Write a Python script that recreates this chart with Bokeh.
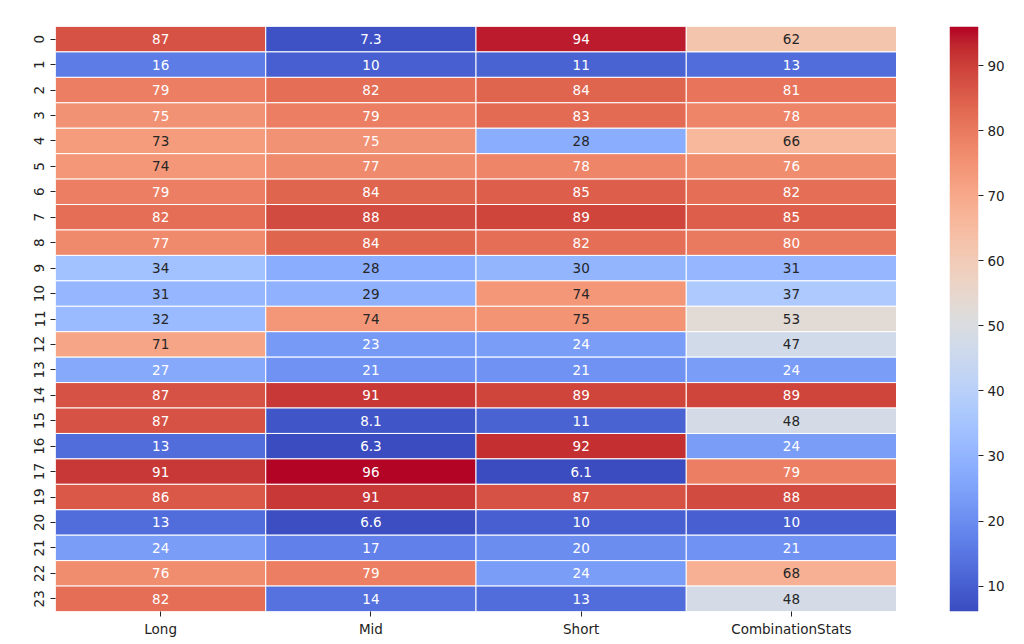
import numpy as np
from bokeh.plotting import figure
from bokeh.layouts import row
from bokeh.models import ColumnDataSource, LinearColorMapper, FixedTicker, Range1d
from bokeh.transform import transform
from bokeh.core.properties import value
from bokeh.embed import file_html
from bokeh.resources import INLINE

rows = ["0", "1", "2", "3", "4", "5", "6", "7", "8", "9", "10", "11", "12",
        "13", "14", "15", "16", "17", "19", "20", "21", "22", "23"]
cols = ["Long", "Mid", "Short", "CombinationStats"]
long_vals = [87, 16, 79, 75, 73, 74, 79, 82, 77, 34, 31, 32, 71, 27, 87, 87, 13, 91, 86, 13, 24, 76, 82]
mid_vals = [7.3, 10, 82, 79, 75, 77, 84, 88, 84, 28, 29, 74, 23, 21, 91, 8.1, 6.3, 96, 91, 6.6, 17, 79, 14]
short_vals = [94, 11, 84, 83, 28, 78, 85, 89, 82, 30, 74, 74.6, 24, 21, 89, 11, 92, 6.1, 87, 10, 20, 24, 13]
comb_vals = [62, 13, 81, 78, 66, 76, 82, 85, 80, 31, 37, 53, 47, 24, 89, 48, 24, 79, 88, 10, 21, 68, 48]
cbar_ticks = [10, 20, 30, 40, 50, 60, 70, 80, 90]

# matplotlib "coolwarm" segment data
cw_r = [0.2298057, 0.26623388, 0.30386891, 0.342804478, 0.38301334, 0.424369608, 0.46666708,
        0.509635204, 0.552953156, 0.596262162, 0.639176211, 0.681291281, 0.722193294,
        0.761464949, 0.798691636, 0.833466556, 0.865395197, 0.897787179, 0.924127593,
        0.944468518, 0.958852946, 0.96732803, 0.969954137, 0.966811177, 0.958003065,
        0.943660866, 0.923944917, 0.89904617, 0.869186849, 0.834620542, 0.795631745,
        0.752534934, 0.705673158]
cw_g = [0.298717966, 0.353094838, 0.406535296, 0.458757618, 0.50941904, 0.558148092,
        0.604562568, 0.648280772, 0.688929332, 0.726149107, 0.759599947, 0.788964712,
        0.813952739, 0.834302879, 0.849786142, 0.860207984, 0.86541021, 0.848937047,
        0.827384882, 0.800927443, 0.769767752, 0.734132809, 0.694266682, 0.650421156,
        0.602842431, 0.551750968, 0.49730856, 0.439559467, 0.378313092, 0.312874446,
        0.24128379, 0.157246067, 0.01555616]
cw_b = [0.753683153, 0.801466763, 0.84495867, 0.883725899, 0.917387822, 0.945619588,
        0.968154911, 0.98478814, 0.995375608, 0.999836203, 0.998151185, 0.990363227,
        0.976574709, 0.956945269, 0.931688648, 0.901068838, 0.865395561, 0.820880546,
        0.774508472, 0.726736146, 0.678007945, 0.628751763, 0.579375448, 0.530263762,
        0.481775914, 0.434243684, 0.387970225, 0.343229596, 0.300267182, 0.259301199,
        0.220525627, 0.184115123, 0.150232812]
xs = np.linspace(0, 1, len(cw_r))
t = np.linspace(0, 1, 256)
pal_rgb = np.stack([np.interp(t, xs, np.array(c)) for c in (cw_r, cw_g, cw_b)], axis=1)
palette = ["#%02x%02x%02x" % tuple(int(round(c * 255)) for c in rgb) for rgb in pal_rgb]

all_vals = long_vals + mid_vals + short_vals + comb_vals
vmin, vmax = min(all_vals), max(all_vals)
mapper = LinearColorMapper(palette=palette, low=vmin, high=vmax)


def lum(rgb):
    c = np.array(rgb)
    c = np.where(c <= 0.03928, c / 12.92, ((c + 0.055) / 1.055) ** 2.4)
    return 0.2126 * c[0] + 0.7152 * c[1] + 0.0722 * c[2]


xcol, yrow, vals, labels, tcol = [], [], [], [], []
for cname, series in zip(cols, [long_vals, mid_vals, short_vals, comb_vals]):
    for r, v in zip(rows, series):
        xcol.append(cname)
        yrow.append(r)
        vals.append(v)
        labels.append("{:.2g}".format(v))
        idx = int(np.clip((v - vmin) / (vmax - vmin) * 256, 0, 255))
        tcol.append("#262626" if lum(pal_rgb[idx]) > 0.408 else "#ffffff")

src = ColumnDataSource(dict(col=xcol, row=yrow, val=vals, label=labels, tcol=tcol))

p = figure(x_range=cols, y_range=list(reversed(rows)), frame_width=841, frame_height=585,
           min_border_left=55, min_border_top=26, min_border_bottom=30, min_border_right=0,
           output_backend="svg", toolbar_location=None)
p.rect(x="col", y="row", width=1, height=1, source=src,
       fill_color=transform("val", mapper), line_color="white", line_width=1)
p.text(x="col", y="row", text="label", source=src, text_color="tcol",
       text_align="center", text_baseline="middle",
       text_font=value("DejaVu Sans"), text_font_size="13.5px")

for ax in (p.xaxis[0], p.yaxis[0]):
    ax.axis_line_color = None
    ax.major_tick_in = 0
    ax.major_tick_out = 5
    ax.major_tick_line_color = "#222222"
    ax.minor_tick_line_color = None
    ax.major_label_text_font = "DejaVu Sans"
    ax.major_label_text_font_size = "13.5px"
    ax.major_label_text_color = "#222222"
    ax.major_label_standoff = 4
p.yaxis.major_label_orientation = "vertical"
p.yaxis.major_label_standoff = 6
p.grid.visible = False
p.outline_line_color = None

# colour bar as its own small figure
cbf = figure(x_range=Range1d(0, 1), y_range=Range1d(vmin, vmax), frame_width=29, frame_height=585,
             min_border_left=53, min_border_top=26, min_border_bottom=30, min_border_right=40,
             x_axis_location=None, y_axis_location="right",
             output_backend="svg", toolbar_location=None)
grad = np.linspace(vmin, vmax, 256).reshape(256, 1)
cbf.image(image=[grad], x=0, y=vmin, dw=1, dh=vmax - vmin, color_mapper=mapper)
cax = cbf.yaxis[0]
cax.ticker = FixedTicker(ticks=cbar_ticks)
cax.axis_line_color = None
cax.major_tick_in = 0
cax.major_tick_out = 5
cax.major_tick_line_color = "#222222"
cax.minor_tick_line_color = None
cax.major_label_text_font = "DejaVu Sans"
cax.major_label_text_font_size = "13.5px"
cax.major_label_text_color = "#222222"
cax.major_label_standoff = 4
cbf.grid.visible = False
cbf.outline_line_color = None

layout = row(p, cbf)
open("out.html", "w").write(file_html(layout, INLINE))
